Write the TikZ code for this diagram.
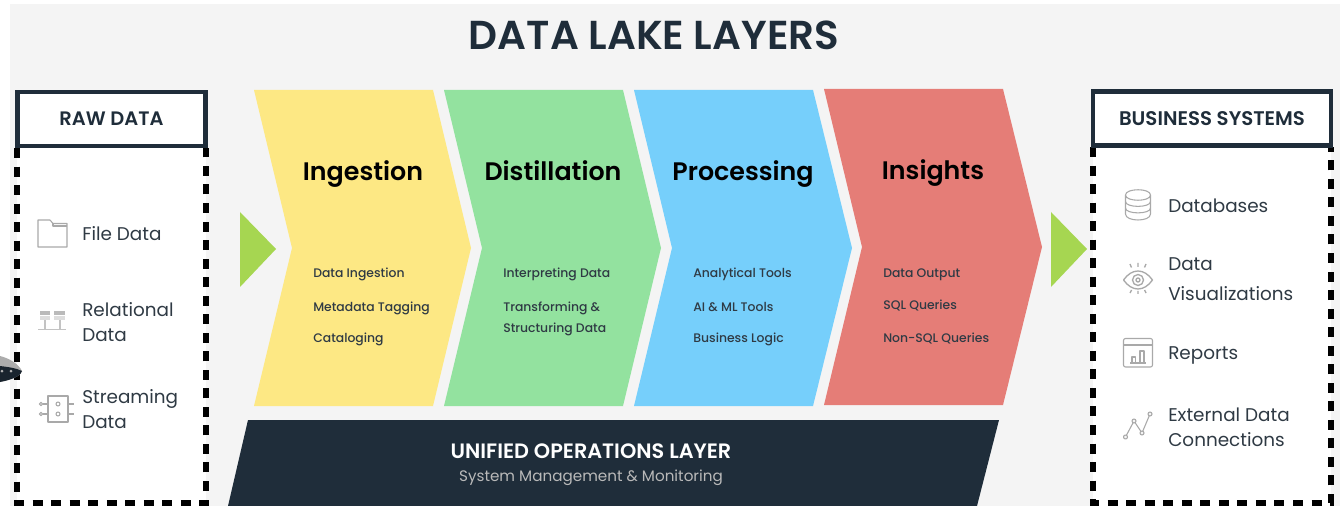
\documentclass[tikz,border=0pt]{standalone}
\usepackage{fontspec}
\setmainfont{Poppins}
\newfontfamily\semib{Poppins SemiBold}
\newfontfamily\medi{Poppins Medium}
\definecolor{navy}{HTML}{1F2D3A}
\definecolor{bgg}{HTML}{F4F4F4}
\definecolor{yel}{HTML}{FDE884}
\definecolor{grn}{HTML}{93E29F}
\definecolor{blu}{HTML}{76CFFB}
\definecolor{red1}{HTML}{E57D77}
\definecolor{lime}{HTML}{A6D651}
\definecolor{ico}{HTML}{A9A9A9}
\definecolor{txt}{HTML}{2F3A44}
\tikzset{
  head/.style={draw=navy,line width=3.7pt,fill=white,text=navy,inner sep=0pt},
  dashbox/.style={draw=black,line width=4.2pt,dash pattern=on 7.5pt off 6.4pt},
  lay/.style={font=\fontsize{19}{20}\semib,text=black,inner sep=0pt,anchor=base},
  sub/.style={font=\fontsize{9.3}{15.7}\medi,text=txt,anchor=base west,inner sep=0pt,align=left},
  item/.style={font=\fontsize{13.8}{19}\selectfont,text=txt,anchor=west,inner sep=0pt,align=left},
  icon/.style={draw=ico,line width=0.8pt,line join=round,fill=none}
}
\begin{document}
\begin{tikzpicture}[x=0.75pt,y=-0.75pt]
\useasboundingbox (0,0) rectangle (1340,506);
\fill[white] (0,0) rectangle (1340,506);
\fill[bgg] (10,4) rectangle (1340,506);
\node[font=\fontsize{30.3}{30}\semib,text=navy,inner sep=0pt] (title) at (654,35) {DATA LAKE LAYERS};
% left panel
\fill[white] (17,148) rectangle (206,506);
\draw[dashbox] (17,148) -- (17,503) -- (206,503) -- (206,148);
\node[head,font=\fontsize{14.6}{15}\semib,minimum width=141.5pt,minimum height=40.5pt] (rawhead) at (111.5,119) {RAW DATA};
% right panel
\fill[white] (1093,147) rectangle (1331,506);
\draw[dashbox] (1093,147) -- (1093,503) -- (1331,503) -- (1331,147);
\node[head,font=\fontsize{14.8}{15}\semib,minimum width=178.5pt,minimum height=40pt] (bizhead) at (1212,118.5) {BUSINESS SYSTEMS};
% car fragment at left edge
\fill[gray!65] (0,356) .. controls (8,358) and (18,363) .. (22,371) .. controls (20,377) and (10,380) .. (0,382) -- cycle;
\fill[navy!80!black] (0,366) .. controls (8,367) and (16,368) .. (22,371) .. controls (20,377) and (10,380) .. (0,382) -- cycle;
\fill[gray!60] (2,371) circle (1.5) (11,371) circle (1.5);
% chevrons
\fill[yel] (254,90) -- (433,90) -- (471,248) -- (433,406) -- (254,406) -- (292,248) -- cycle;
\fill[grn] (444,90) -- (623,90) -- (661,248) -- (623,406) -- (444,406) -- (482,248) -- cycle;
\fill[blu] (634,90) -- (813,90) -- (852,248) -- (813,406) -- (634,406) -- (672,248) -- cycle;
\fill[red1] (824,89) -- (1003,89) -- (1042,247) -- (1003,405) -- (824,405) -- (862,247) -- cycle;
\node[lay] (ing) at (363,181) {Ingestion};
\node[lay] (dis) at (553,181) {Distillation};
\node[lay] (pro) at (743,181) {Processing};
\node[lay] (ins) at (933,180) {Insights};
\node[sub] (s1) at (313,278) {Data Ingestion};
\node[sub] (s2) at (313,311) {Metadata Tagging};
\node[sub] (s3) at (313,342.5) {Cataloging};
\node[sub] (s4) at (503,278) {Interpreting Data};
\node[sub] (s5) at (503,332) {Transforming \&\\Structuring Data};
\node[sub] (s6) at (693,278) {Analytical Tools};
\node[sub] (s7) at (693,311) {AI \& ML Tools};
\node[sub] (s8) at (693,342.5) {Business Logic};
\node[sub] (s9) at (883,278) {Data Output};
\node[sub] (s10) at (883,310) {SQL Queries};
\node[sub] (s11) at (883,342) {Non-SQL Queries};
% unified layer
\fill[navy] (248,420) -- (999,420) -- (977,506) -- (228,506) -- cycle;
\node[font=\fontsize{15.6}{15}\semib,text=white,inner sep=0pt] (uni) at (591,451) {UNIFIED OPERATIONS LAYER};
\node[font=\fontsize{11.4}{12}\selectfont,text=gray!55,inner sep=0pt] (sys) at (591,478) {System Management \& Monitoring};
% arrows
\fill[lime] (240,212) -- (276,249) -- (240,287) -- cycle;
\fill[lime] (1051,212) -- (1087,249) -- (1051,287) -- cycle;
% left items
\node[item] (i1) at (82,233.5) {File Data};
\node[item] (i2) at (82,322) {Relational\\Data};
\node[item] (i3) at (82,409) {Streaming\\Data};
% right items
\node[item] (r1) at (1168,206) {Databases};
\node[item,font=\fontsize{13.8}{22.5}\selectfont] (r2) at (1168,279.5) {Data\\Visualizations};
\node[item] (r3) at (1168,355) {Reports};
\node[item] (r4) at (1168,427) {External Data\\Connections};
% folder icon
\draw[icon] (38,220) -- (50,220) -- (53,223.5) -- (67,223.5) -- (67,247) -- (38,247) -- cycle;
\draw[icon] (53,223.5) -- (53,226) -- (67,226);
% relational icon
\fill[ico!80] (40,311) rectangle (50,315);
\fill[ico!80] (54,311) rectangle (65,315);
\fill[ico!40] (40,316) rectangle (50,320);
\fill[ico!40] (54,316) rectangle (65,320);
\draw[icon,draw=ico!70] (45,320) -- (45,329) (60,320) -- (60,329) (38,329.5) -- (66,329.5);
% streaming icon
\draw[icon] (48,396) rectangle (68,422);
\draw[icon] (58,404) circle (2) (58,414) circle (2);
\draw[icon] (41,404) circle (1.7) (41,414) circle (1.7);
\draw[icon] (43,404) -- (48,404) (43,414) -- (48,414) (68,404) -- (74,404) (68,414) -- (74,414);
% database icon
\draw[icon] (1125.5,195) .. controls (1125.5,188) and (1150.5,188) .. (1150.5,195) .. controls (1150.5,202) and (1125.5,202) .. (1125.5,195)
  -- (1125.5,214) .. controls (1125.5,222) and (1150.5,222) .. (1150.5,214) -- (1150.5,195);
\draw[icon] (1125.5,201.5) .. controls (1125.5,208) and (1150.5,208) .. (1150.5,201.5);
\draw[icon] (1125.5,208) .. controls (1125.5,214.5) and (1150.5,214.5) .. (1150.5,208);
% eye icon
\draw[icon,line width=1pt] (1123.5,280) .. controls (1132,268) and (1144,268) .. (1152.5,280) .. controls (1144,292) and (1132,292) .. (1123.5,280) -- cycle;
\draw[icon,line width=1pt] (1138,280) circle (5.5) (1138,280) circle (2);
\draw[icon,line width=1pt] (1130,264) -- (1131.5,267.5) (1138,263) -- (1138,267) (1146,264) -- (1144.5,267.5)
 (1130,293) -- (1131.5,290) (1138,294) -- (1138,291) (1146,293) -- (1144.5,290);
% reports icon
\draw[icon,rounded corners=1.5] (1123.5,338.5) rectangle (1152.5,367);
\draw[icon] (1123.5,345) -- (1152.5,345);
\draw[icon] (1132,363) -- (1132,357) -- (1135.5,357) -- (1135.5,363) (1140,363) -- (1140,351) -- (1144,351) -- (1144,363) (1130,363) -- (1146,363);
% line chart icon
\draw[icon] (1125.5,437) -- (1134,421) -- (1142,433) -- (1150,414);
\draw[icon,fill=bgg] (1125.5,437) circle (2) (1134,421) circle (2) (1142,433) circle (2) (1150,414) circle (2);
\end{tikzpicture}
\end{document}
